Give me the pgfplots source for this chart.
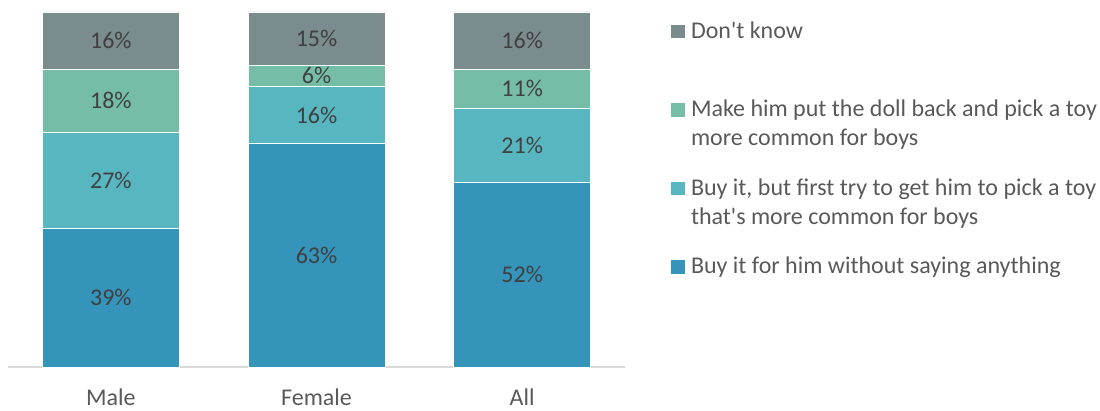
\documentclass[border=0pt]{standalone}
\usepackage{fontspec}
\setmainfont{Carlito}[Ligatures=TeXOff]
\usepackage{pgfplots}
\pgfplotsset{compat=1.18}
\definecolor{cA}{HTML}{3494BA}
\definecolor{cB}{HTML}{58B6C0}
\definecolor{cC}{HTML}{75BDA7}
\definecolor{cD}{HTML}{7A8C8E}
\definecolor{lbl}{HTML}{404040}
\definecolor{tck}{HTML}{595959}
\definecolor{axl}{HTML}{D9D9D9}
\newcommand{\fs}{\fontsize{24}{29}\selectfont}
\newcommand{\entry}[1]{\parbox[t]{440pt}{#1}}
\begin{document}
\begin{tikzpicture}[x=1pt,y=1pt]
\useasboundingbox (0,0) rectangle (1100,410);
\pgfplotsset{base/.style={
  at={(8pt,43pt)}, anchor=south west,
  width=617pt, height=355pt, scale only axis,
  xmin=-0.5, xmax=2.5, ymin=0, ymax=100,
}}
\begin{axis}[base,
  ybar stacked, bar width=137pt,
  axis y line=none,
  axis x line*=bottom,
  x axis line style={draw=axl, line width=1.4pt, -},
  xtick={0,1,2}, xticklabels={Male,Female,All},
  major tick length=0pt,
  xticklabel style={font=\fs, text=tck, anchor=center, yshift=-30pt},
  legend image code/.code={\fill[#1,draw=none] (0pt,0pt) rectangle (14pt,13.5pt);},
  reverse legend,
  legend style={at={(1.07455,0.9783)}, anchor=north west, draw=none, fill=none,
    inner sep=0pt, outer sep=0pt, row sep=56.3pt,
    font=\fs, text=tck,
    cells={anchor=base west, inner sep=0pt},
    /tikz/every odd column/.style={column sep=4pt}},
]
\addplot[fill=cA, draw=white, line width=0.4pt] coordinates {(0,39) (1,63) (2,52)};
\addplot[fill=cB, draw=white, line width=0.4pt] coordinates {(0,27) (1,16) (2,21)};
\addplot[fill=cC, draw=white, line width=0.4pt] coordinates {(0,18) (1,6) (2,11)};
\addplot[fill=cD, draw=white, line width=0.4pt] coordinates {(0,16) (1,15) (2,16)};
\legend{\entry{Buy it for him without saying anything},
  {\entry{Buy it, but first try to get him to pick a toy\\that's more common for boys}},
  \entry{Make him put the doll back and pick a toy\\more common for boys},
  \entry{Don't know}}
\end{axis}
\begin{axis}[base, hide axis, clip=false,
  point meta=explicit symbolic,
  nodes near coords,
  nodes near coords style={anchor=center, font=\fs, text=lbl, inner sep=0pt}]
\addplot[only marks, mark=none] coordinates {
  (0,19.5)[39\%] (0,52.5)[27\%] (0,75)[18\%] (0,92)[16\%]
  (1,31.5)[63\%] (1,71)[16\%] (1,82)[6\%] (1,92.5)[15\%]
  (2,26)[52\%] (2,62.5)[21\%] (2,78.5)[11\%] (2,92)[16\%]
};
\end{axis}
\end{tikzpicture}
\end{document}
